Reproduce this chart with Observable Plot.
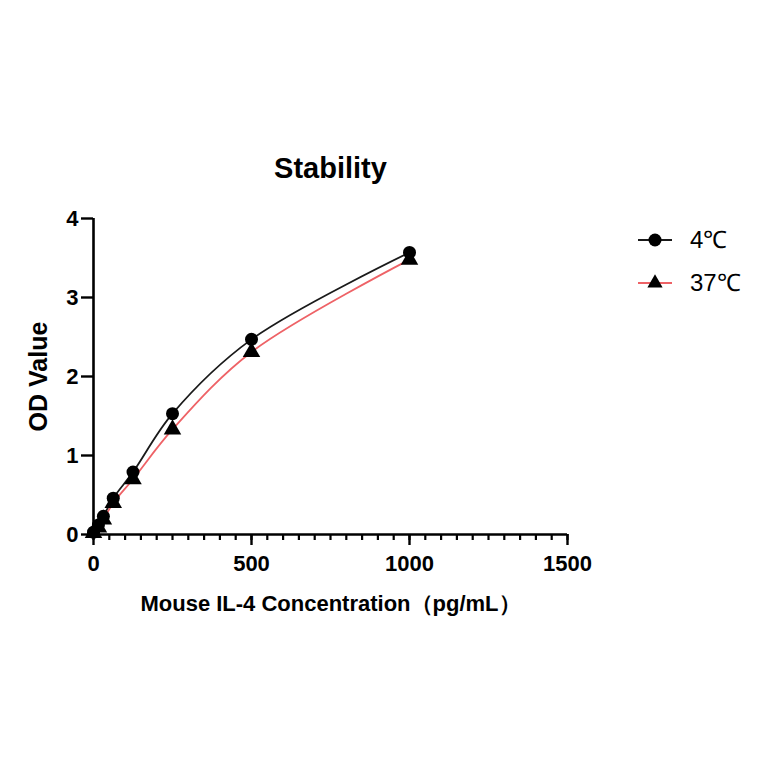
<!DOCTYPE html>
<html>
<head>
<meta charset="utf-8">
<script src="https://cdn.jsdelivr.net/npm/d3@7"></script>
<script src="https://cdn.jsdelivr.net/npm/@observablehq/plot@0.6"></script>
<style>
  html, body { margin: 0; padding: 0; background: #fff; }
  #chart { position: relative; width: 764px; height: 764px; }
</style>
</head>
<body>
<div id="chart"></div>
<script>
// ---- data ----
const concentrations = [0, 15.6, 31.25, 62.5, 125, 250, 500, 1000];
const od4C  = [0.03, 0.12, 0.23, 0.46, 0.79, 1.53, 2.47, 3.57];
const od37C = [0.02, 0.09, 0.19, 0.40, 0.70, 1.33, 2.31, 3.48];
const seriesNames = ["4℃", "37℃"];
const xMajorTicks = [0, 500, 1000, 1500];
const xMinorTicks = d3.range(0, 1501, 50);
const yTicks = [0, 1, 2, 3, 4];
const titleText = "Stability";
const xLabel = "Mouse IL-4 Concentration（pg/mL）";
const yLabel = "OD Value";

const colors = {"4℃": "#1a1a1a", "37℃": "#ee6266"};
const symbols = {"4℃": "circle", "37℃": "triangle"};

const rows = [];
concentrations.forEach((c, i) => {
  rows.push({series: seriesNames[0], x: c, y: od4C[i]});
  rows.push({series: seriesNames[1], x: c, y: od37C[i]});
});
const s4 = rows.filter(d => d.series === seriesNames[0]);
const s37 = rows.filter(d => d.series === seriesNames[1]);

const font = "'Liberation Sans', Arial, Helvetica, sans-serif";

const plot = Plot.plot({
  width: 764,
  height: 764,
  marginLeft: 93,
  marginRight: 197,
  marginTop: 218,
  marginBottom: 230,
  style: {fontFamily: font, color: "#000", background: "#fff"},
  x: {domain: [0, 1500]},
  y: {domain: [0, 4]},
  marks: [
    // curves
    Plot.line(s37, {x: "x", y: "y", stroke: colors["37℃"], strokeWidth: 1.8, curve: "catmull-rom"}),
    Plot.line(s4, {x: "x", y: "y", stroke: colors["4℃"], strokeWidth: 1.8, curve: "catmull-rom"}),
    // points
    Plot.dot(s37, {x: "x", y: "y", symbol: "triangle", r: 6.5, fill: "#000", stroke: "none"}),
    Plot.dot(s4, {x: "x", y: "y", symbol: "circle", r: 6.5, fill: "#000", stroke: "none"}),
    // axis lines
    Plot.ruleX([0], {y1: 0, y2: 4, stroke: "#000", strokeWidth: 2.6}),
    Plot.ruleY([0], {x1: 0, x2: 1500, stroke: "#000", strokeWidth: 2.6}),
    // y axis
    Plot.axisY(yTicks, {tickSize: 12, tickPadding: 3, fontSize: 22, fontWeight: "bold", strokeWidth: 2.4, label: null, tickFormat: d => String(d)}),
    // x axis
    Plot.axisX(xMinorTicks, {tickSize: 6, strokeWidth: 2.2, text: null, label: null}),
    Plot.axisX(xMajorTicks, {tickSize: 11, tickPadding: 10, fontSize: 22, fontWeight: "bold", strokeWidth: 2.4, label: null, tickFormat: d => String(d)}),
    // title and axis labels
    Plot.text([titleText], {frameAnchor: "top", lineAnchor: "middle", dy: -50, fontSize: 29, fontWeight: "bold", fill: "#000"}),
    Plot.text([xLabel], {frameAnchor: "bottom", lineAnchor: "middle", dy: 69, fontSize: 22, fontWeight: "bold", fill: "#000"}),
    Plot.text([yLabel], {frameAnchor: "left", textAnchor: "middle", lineAnchor: "middle", dx: -55, rotate: -90, fontSize: 25, fontWeight: "bold", fill: "#000"})
  ]
});

document.getElementById("chart").appendChild(plot);

// legend
const svg = d3.select(plot);
const legend = svg.append("g").attr("font-family", font);
seriesNames.forEach((name, i) => {
  const y = 240 + i * 43;
  const g = legend.append("g").attr("transform", `translate(0,${y})`);
  g.append("line").attr("x1", 638).attr("x2", 672).attr("y1", 0).attr("y2", 0)
    .attr("stroke", colors[name]).attr("stroke-width", 1.8);
  g.append("path").attr("d", d3.symbol(symbols[name] === "circle" ? d3.symbolCircle : d3.symbolTriangle, symbols[name] === "circle" ? 133 : 100)())
    .attr("transform", "translate(655,0)").attr("fill", "#000");
  g.append("text").attr("x", 690).attr("y", 0).attr("dy", "0.35em")
    .attr("text-anchor", "start")
    .attr("font-size", 24).attr("fill", "#000").text(name);
});
</script>
</body>
</html>
